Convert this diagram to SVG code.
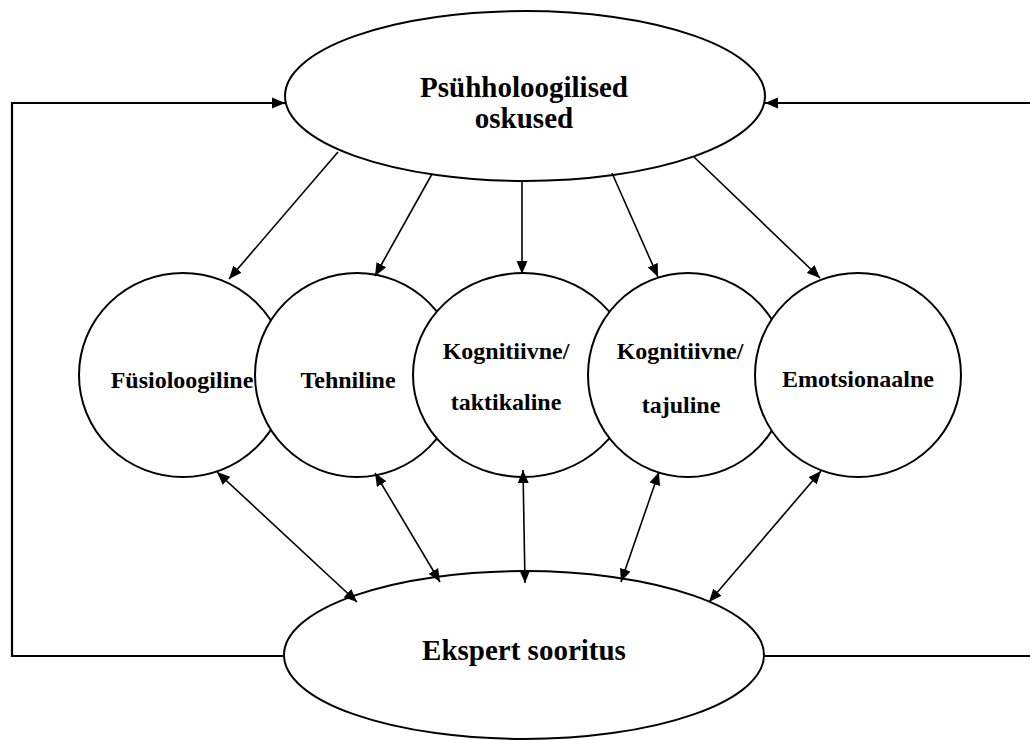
<svg xmlns="http://www.w3.org/2000/svg" width="1030" height="740" viewBox="0 0 1030 740">
<defs>
<marker id="ah" markerUnits="userSpaceOnUse" markerWidth="14" markerHeight="12" refX="13" refY="5.5" orient="auto-start-reverse" viewBox="0 0 14 11">
<path d="M0,0 L13,5.5 L0,11 z" fill="#000"/>
</marker>
<style>
.shape{fill:#fff;stroke:#000;stroke-width:2}
.lbl{font-family:"Liberation Serif","Times New Roman",serif;font-weight:bold;font-size:24px;fill:#000;text-anchor:middle}
.big{font-size:29px}
.ln{fill:none;stroke:#000;stroke-width:1.6}
.fb{fill:none;stroke:#000;stroke-width:2.2}
</style>
</defs>
<rect width="1030" height="740" fill="#fff"/>
<g id="connectors">
<polyline class="fb" points="284,656 12,656 12,103 272,103"/>
<line class="fb" x1="272" y1="103" x2="285" y2="103" marker-end="url(#ah)"/>
<line class="fb" x1="1030" y1="103" x2="765" y2="103" marker-end="url(#ah)"/>
<line class="fb" x1="764" y1="656" x2="1030" y2="656"/>
</g>
<g id="n-top"><ellipse class="shape" cx="525" cy="96" rx="240" ry="85"/>
<text class="lbl big" x="524" y="97">Psühholoogilised</text>
<text class="lbl big" x="524" y="128">oskused</text></g>
<g id="n-bottom"><ellipse class="shape" cx="524" cy="655" rx="240" ry="84"/>
<text class="lbl big" x="524" y="660">Ekspert sooritus</text></g>
<g id="n-fys"><ellipse class="shape" cx="183" cy="375" rx="104" ry="102"/>
<text class="lbl" x="182" y="388">Füsioloogiline</text></g>
<g id="n-teh"><ellipse class="shape" cx="357" cy="375" rx="102" ry="102"/>
<text class="lbl" x="348" y="388">Tehniline</text></g>
<g id="n-kogtak"><ellipse class="shape" cx="523" cy="375" rx="110" ry="102"/>
<text class="lbl" x="506" y="359">Kognitiivne/</text>
<text class="lbl" x="506" y="410">taktikaline</text></g>
<g id="n-kogtaj"><ellipse class="shape" cx="688" cy="375" rx="100" ry="102"/>
<text class="lbl" x="680" y="359">Kognitiivne/</text>
<text class="lbl" x="681" y="413">tajuline</text></g>
<g id="n-emo"><ellipse class="shape" cx="858" cy="375" rx="103" ry="102"/>
<text class="lbl" x="858" y="387">Emotsionaalne</text></g>
<g id="arrows">
<line class="ln" x1="338" y1="152" x2="229" y2="279" marker-end="url(#ah)"/>
<line class="ln" x1="432" y1="174" x2="375" y2="276" marker-end="url(#ah)"/>
<line class="ln" x1="522" y1="181" x2="522" y2="274" marker-end="url(#ah)"/>
<line class="ln" x1="612" y1="173" x2="658" y2="277" marker-end="url(#ah)"/>
<line class="ln" x1="694" y1="157" x2="820" y2="278" marker-end="url(#ah)"/>
<line class="ln" x1="217" y1="472" x2="357" y2="602" marker-start="url(#ah)" marker-end="url(#ah)"/>
<line class="ln" x1="375" y1="473" x2="440" y2="582" marker-start="url(#ah)" marker-end="url(#ah)"/>
<line class="ln" x1="523" y1="470" x2="525" y2="583" marker-start="url(#ah)" marker-end="url(#ah)"/>
<line class="ln" x1="659" y1="472" x2="621" y2="582" marker-start="url(#ah)" marker-end="url(#ah)"/>
<line class="ln" x1="821" y1="471" x2="709" y2="602" marker-start="url(#ah)" marker-end="url(#ah)"/>
</g>
</svg>
